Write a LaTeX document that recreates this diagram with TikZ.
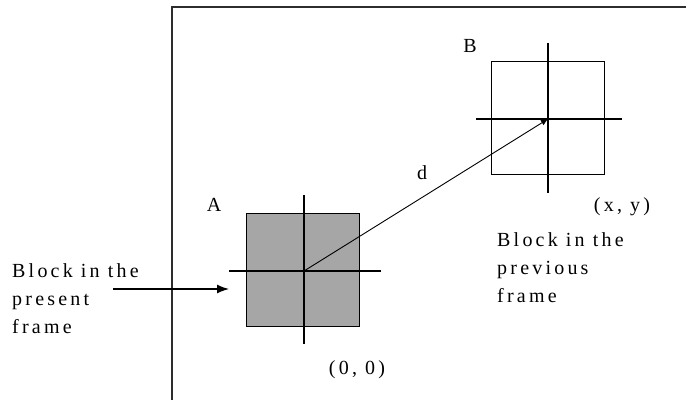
\documentclass[tikz,border=0pt]{standalone}
\usepackage{fontspec}
\setmainfont{Liberation Serif}[LetterSpace=16]
\usetikzlibrary{arrows.meta,positioning,calc}
\definecolor{blockgray}{RGB}{166,166,166}
\definecolor{framegray}{RGB}{45,45,45}

\begin{document}
\begin{tikzpicture}[x=1pt,y=-1pt,every node/.style={font=\fontsize{20}{28}\selectfont,inner sep=0pt},
  blockbox/.style={draw,line width=1.3pt,minimum width=113pt,minimum height=113pt},
  crossline/.style={line width=1.3pt}]
  \useasboundingbox (0,0) rectangle (686,400);
  % frame of the picture
  \draw[framegray,line width=2pt] (172,400) -- (172,7) -- (686,7);
  % blocks
  \node[blockbox,fill=blockgray] (blkA) at (303,270) {};
  \node[blockbox] (blkB) at (548,118) {};
  \coordinate (ctrA) at (304,271);
  \coordinate (ctrB) at (548,119);
  \draw[crossline] ([xshift=-75pt]ctrA) -- ([xshift=77pt]ctrA);
  \draw[crossline] ([yshift=76pt]ctrA) -- ([yshift=-73pt]ctrA);
  \draw[crossline] ([xshift=-72pt]ctrB) -- ([xshift=74pt]ctrB);
  \draw[crossline] ([yshift=76pt]ctrB) -- ([yshift=-74pt]ctrB);
  % displacement
  \fill (ctrA) circle (1.8pt);
  \draw[-{Latex[length=7pt,width=6pt]},line width=0.9pt] (ctrA) -- (ctrB);
  % labels
  \node (labA) at (214,205) {A};
  \node (labB) at (470,46) {B};
  \node (labd) at (422,173) {d};
  \node (orig) at (357,370) {(0, 0)};
  \node (posxy) at (622,207) {(x, y)};
  \node[anchor=north west,align=left] (prev) at (497,232) {Block in the\\previous\\frame};
  \node[anchor=north west,align=left] (pres) at (12,263) {Block in the\\present\\frame};
  \coordinate (arrtail) at (113,289);
  \coordinate (arrtip) at (229,289);
  \draw[-{Latex[length=12pt,width=9pt]},line width=1.3pt] (arrtail) -- (arrtip);
\end{tikzpicture}
\end{document}
